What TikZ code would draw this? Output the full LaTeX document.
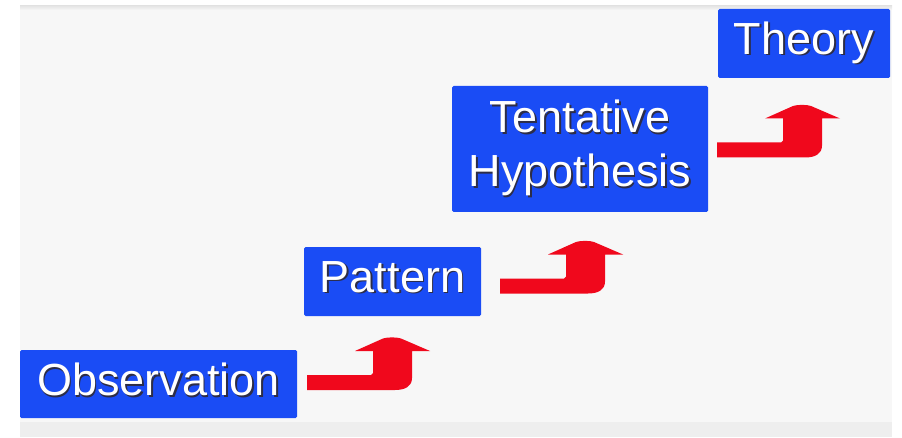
\documentclass[tikz,border=0pt]{standalone}
\usepackage{fontspec}
\setsansfont{Liberation Sans}
\usetikzlibrary{positioning}
\definecolor{stepblue}{RGB}{26,76,245}
\definecolor{stepred}{RGB}{240,8,28}
\definecolor{panelgray}{RGB}{247,247,247}
\definecolor{bandgray}{RGB}{238,238,238}
\definecolor{textshade}{RGB}{45,45,70}
\newcommand{\shadowed}[1]{\vphantom{Hy}\rlap{\hspace{1.6pt}\raisebox{-1.6pt}{\color{textshade}#1}}#1}
\begin{document}
\begin{tikzpicture}[x=1pt,y=1pt,
  stagebox/.style={fill=stepblue,text=white,inner sep=0pt,outer sep=0pt,rounded corners=1.5pt,align=center,font=\sffamily\fontsize{45}{54}\selectfont},
  stepup/.pic={\fill[stepred] (0,7.5) -- (64,7.5) -- (66,9.5) -- (66,31.5) -- (48,31.5) -- (76,44) .. controls (80,45.5) and (90,45.5) .. (94,44) -- (123,31.5) -- (105,31.5) -- (105,4.5) .. controls (105,-4) and (98,-7.5) .. (88,-7.5) -- (0,-7.5) -- cycle;}]
  \useasboundingbox (0,0) rectangle (902,437);
  %panel
  \fill[panelgray] (20,15) rectangle (892,431);
  \fill[bandgray] (20,0) rectangle (892,15);
  \shade[top color=black!10,bottom color=panelgray] (20,427) rectangle (892,431);
  %steps
  \node[stagebox,minimum width=277pt,minimum height=68pt] (obs) at (158.5,53) {\shadowed{Observation}};
  \node[stagebox,minimum width=177pt,minimum height=69pt,above right=34pt and 7pt of obs] (pat) {\shadowed{Pattern}};
  \node[stagebox,minimum width=256pt,minimum height=126pt,above right=35pt and -29pt of pat] (hyp) {\shadowed{Tentative}\\\shadowed{Hypothesis}};
  \node[stagebox,minimum width=172pt,minimum height=69pt,above right=8pt and 10pt of hyp] (thy) {\shadowed{Theory}};
  %arrows
  \pic at ([xshift=10pt,yshift=1.5pt]obs.east) {stepup};
  \pic at ([xshift=19pt,yshift=-4.5pt]pat.east) {stepup};
  \pic at ([xshift=9pt,yshift=-1pt]hyp.east) {stepup};
\end{tikzpicture}
\end{document}
